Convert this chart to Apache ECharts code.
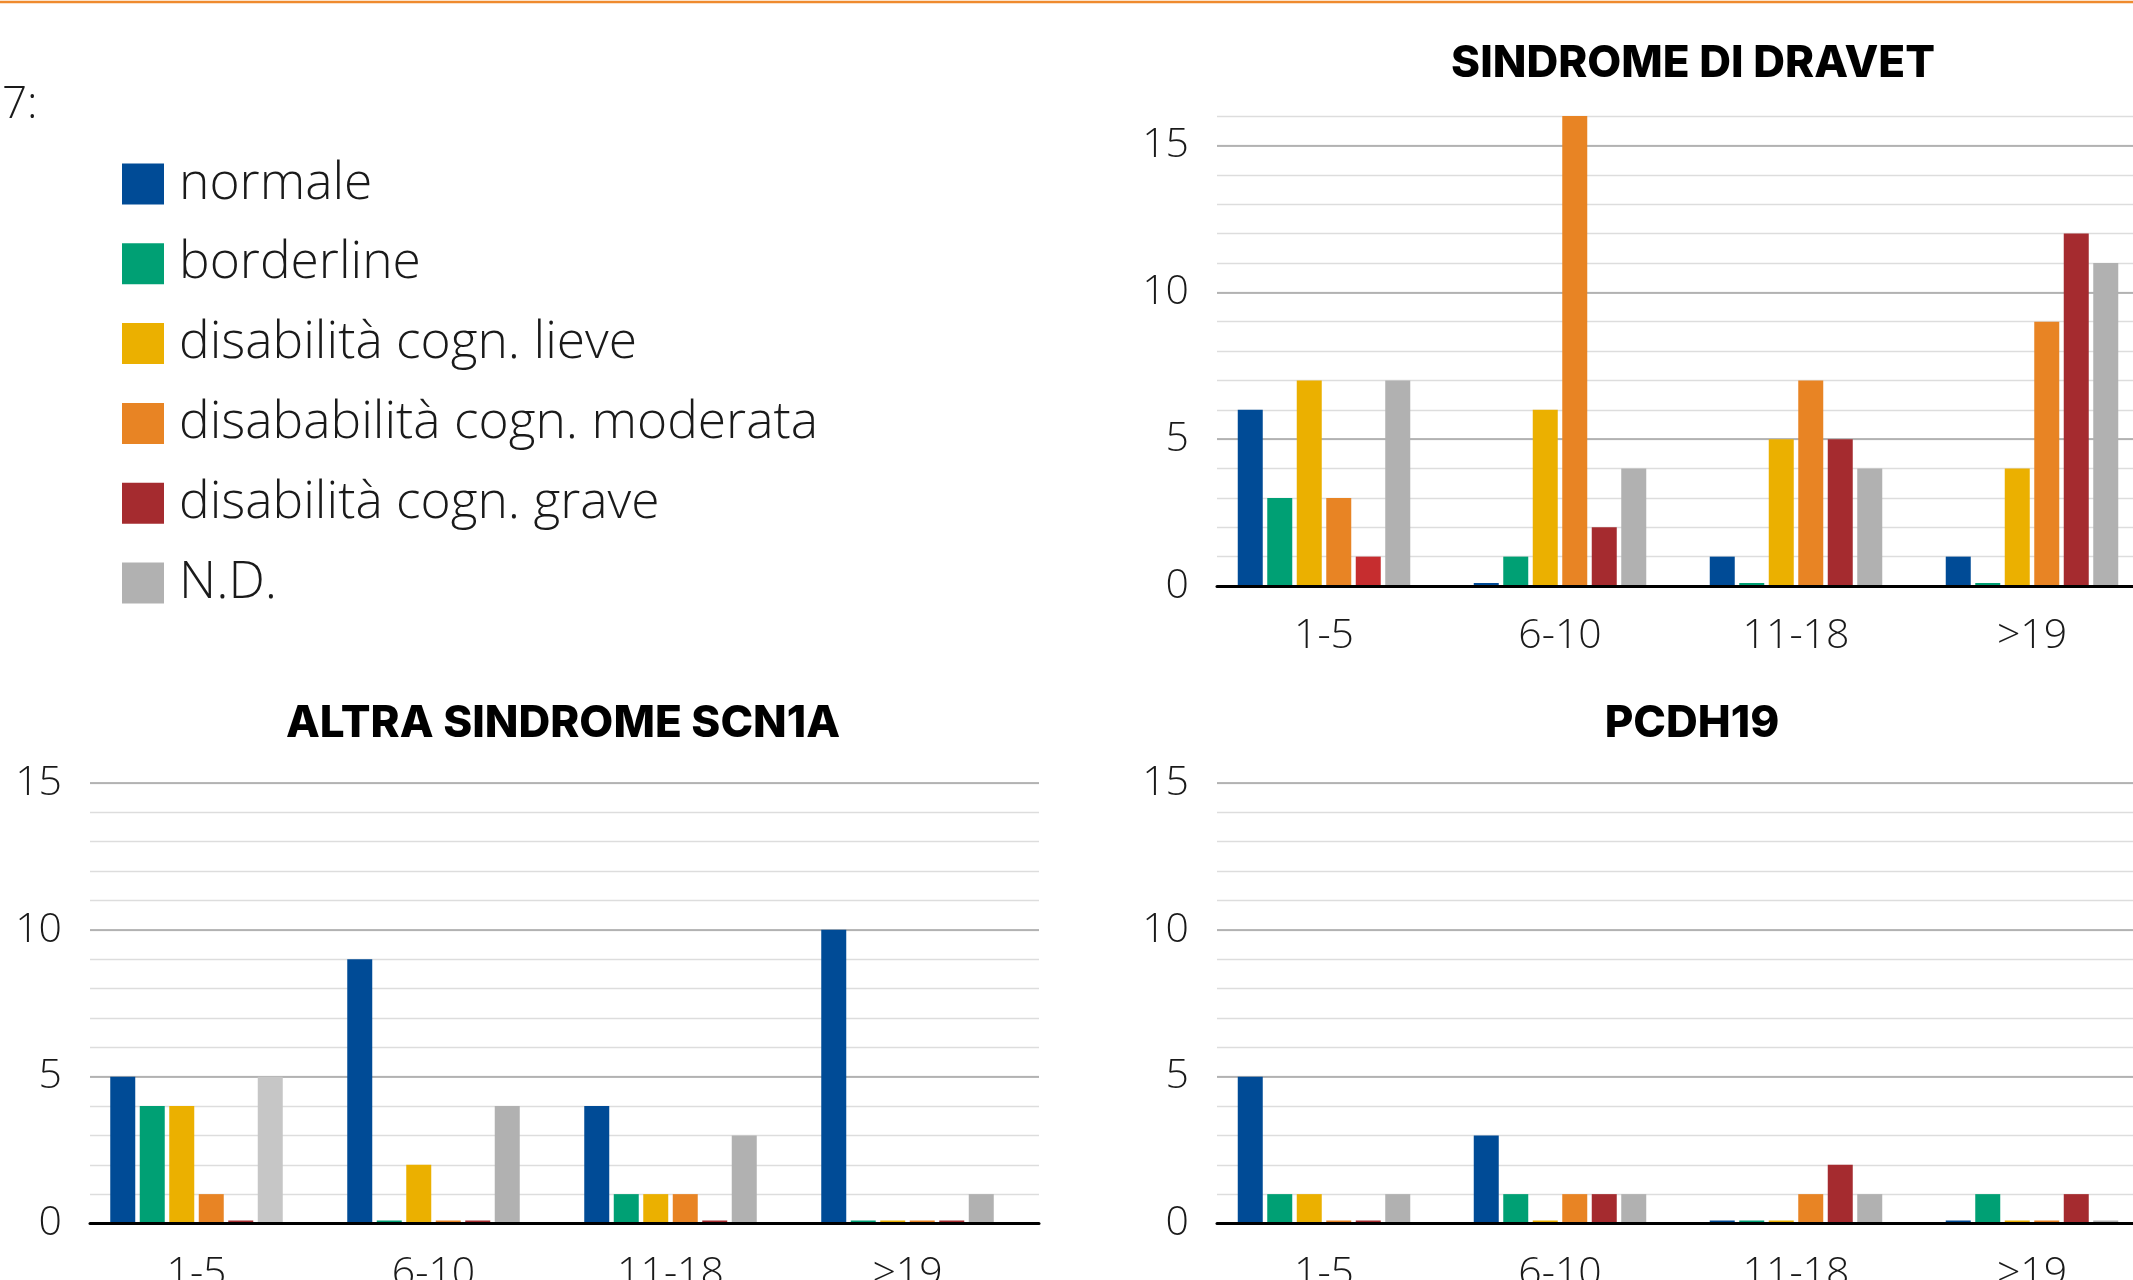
<!DOCTYPE html>
<html>
<head>
<meta charset="utf-8">
<script src="https://cdn.jsdelivr.net/npm/echarts@6/dist/echarts.min.js"></script>
<style>
  html, body { margin: 0; padding: 0; background: #ffffff; }
  #chart { width: 2133px; height: 1280px; }
</style>
</head>
<body>
<div id="chart"></div>
<script>
// Age groups (x categories) and cognitive levels (series)
const ageGroups = ['1-5', '6-10', '11-18', '>19'];
const levels = [
  'normale',
  'borderline',
  'disabilità cogn. lieve',
  'disababilità cogn. moderata',
  'disabilità cogn. grave',
  'N.D.'
];
const levelColors = ['#004b96', '#00a074', '#ebb000', '#e88424', '#a52b2f', '#b1b1b1'];

// Patients per level (one row per level, one value per age group)
const dravetCounts = [
  [6, 0, 1, 1],
  [3, 1, 0, 0],
  [7, 6, 5, 4],
  [3, 16, 7, 9],
  [1, 2, 5, 12],
  [7, 4, 4, 11]
];
const scn1aCounts = [
  [5, 9, 4, 10],
  [4, 0, 1, 0],
  [4, 2, 1, 0],
  [1, 0, 1, 0],
  [0, 0, 0, 0],
  [5, 4, 3, 1]
];
const pcdh19Counts = [
  [5, 3, 0, 0],
  [1, 1, 0, 1],
  [1, 0, 0, 0],
  [0, 1, 1, 0],
  [0, 1, 2, 1],
  [1, 1, 1, 0]
];

// Single bars printed in a different shade: [level index, age index, colour]
const dravetShades = [[4, 0, '#c62d2f']];
const scn1aShades = [[5, 0, '#c6c6c6']];

const panelTitles = ['SINDROME DI DRAVET', 'ALTRA SINDROME SCN1A', 'PCDH19'];
const panelMax = [16, 15, 15];

// Layout of each panel: "rules" grid carries grid lines, y labels and baseline,
// "bars" grid carries the bars and the age labels.
const layout = [
  { rules: { left: 1217, right: 0, top: 116, height: 470 },
    bars: { left: 1206, width: 944, top: 116, height: 470 },
    title: [1693, 64] },
  { rules: { left: 90, width: 949, top: 783, height: 440.5 },
    bars: { left: 78, width: 948, top: 783, height: 440.5 },
    title: [563, 724] },
  { rules: { left: 1217, right: 0, top: 783, height: 440.5 },
    bars: { left: 1206, width: 944, top: 783, height: 440.5 },
    title: [1692, 724] }
];

const LIGHT = '"Open Sans", Lato, sans-serif';
const BOLD = 'Inter, Lato, sans-serif';

const panelData = [
  { counts: dravetCounts, shades: dravetShades },
  { counts: scn1aCounts, shades: scn1aShades },
  { counts: pcdh19Counts, shades: [] }
];

const grids = [], xAxes = [], yAxes = [], series = [], graphics = [];

panelData.forEach((panel, p) => {
  const L = layout[p];
  const gRules = grids.length;
  grids.push(Object.assign({ containLabel: false, outerBoundsMode: 'none' }, L.rules));
  const gBars = grids.length;
  grids.push(Object.assign({ containLabel: false, outerBoundsMode: 'none' }, L.bars));

  // baseline axis (drawn above the bars)
  xAxes.push({
    type: 'category', gridIndex: gRules, data: ageGroups, z: 10,
    axisLine: { show: true, lineStyle: { color: '#000000', width: 3 } },
    axisTick: { show: false }, axisLabel: { show: false }, splitLine: { show: false }
  });
  // age labels
  xAxes.push({
    type: 'category', gridIndex: gBars, data: ageGroups,
    axisLine: { show: false }, axisTick: { show: false }, splitLine: { show: false },
    axisLabel: { fontSize: 41, fontFamily: LIGHT, fontWeight: 300, color: '#1a1a1a', margin: 30 }
  });
  const xBars = xAxes.length - 1;

  // fine rules every unit
  yAxes.push({
    type: 'value', gridIndex: gRules, position: 'left', offset: 0,
    min: 0, max: panelMax[p], interval: 1, z: 0,
    axisLine: { show: false }, axisTick: { show: false }, axisLabel: { show: false },
    splitLine: { show: true, lineStyle: { color: '#dddddd', width: 1.3 } }
  });
  // main rules every 5 units, with labels
  yAxes.push({
    type: 'value', gridIndex: gRules, position: 'left', offset: 0,
    min: 0, max: panelMax[p], interval: 5, z: 1,
    axisLine: { show: false }, axisTick: { show: false },
    axisLabel: {
      fontSize: 41, fontFamily: LIGHT, fontWeight: 300, color: '#1a1a1a', margin: 28,
      formatter: v => (v % 5 === 0 ? String(v) : '')
    },
    splitLine: { show: true, showMaxLine: panelMax[p] % 5 === 0, lineStyle: { color: '#a3a3a3', width: 1.7 } }
  });
  // value scale for the bars
  yAxes.push({ type: 'value', gridIndex: gBars, min: 0, max: panelMax[p], show: false });
  const yBars = yAxes.length - 1;

  panel.counts.forEach((row, li) => {
    const data = row.map((v, ai) => {
      const shade = panel.shades.find(s => s[0] === li && s[1] === ai);
      return shade ? { value: v, itemStyle: { color: shade[2] } } : v;
    });
    series.push({
      type: 'bar', name: levels[li], xAxisIndex: xBars, yAxisIndex: yBars,
      data: data, barWidth: 25, barGap: '18%', barMinHeight: 3,
      itemStyle: { color: levelColors[li] }, silent: true, z: 2
    });
  });

  graphics.push({
    type: 'text', x: L.title[0], y: L.title[1],
    style: {
      text: panelTitles[p], fill: '#000000',
      font: '800 44px ' + BOLD,
      align: 'center', verticalAlign: 'middle',
      textAlign: 'center', textVerticalAlign: 'middle'
    }
  });
});

// orange rule across the top and the trailing heading fragment
graphics.push({
  type: 'rect', shape: { x: 0, y: 0.7, width: 2133, height: 2.5 },
  style: { fill: '#ef8a2e' }
});
graphics.push({
  type: 'text', x: 2, y: 105,
  style: {
    text: '7:', fill: '#1a1a1a', font: '300 44px ' + LIGHT,
    align: 'left', verticalAlign: 'middle', textAlign: 'left', textVerticalAlign: 'middle'
  }
});

const chart = echarts.init(document.getElementById('chart'), null, { renderer: 'canvas' });
chart.setOption({
  animation: false,
  backgroundColor: '#ffffff',
  grid: grids,
  xAxis: xAxes,
  yAxis: yAxes,
  series: series,
  legend: {
    data: levels, orient: 'vertical', left: 122, top: 158, padding: 0,
    icon: 'rect', itemWidth: 42, itemHeight: 41, itemGap: 27.8,
    selectedMode: false,
    textStyle: { fontSize: 51.5, fontFamily: LIGHT, fontWeight: 300, color: '#1a1a1a', padding: [0, 0, 0, 10] }
  },
  graphic: graphics
});
</script>
</body>
</html>
